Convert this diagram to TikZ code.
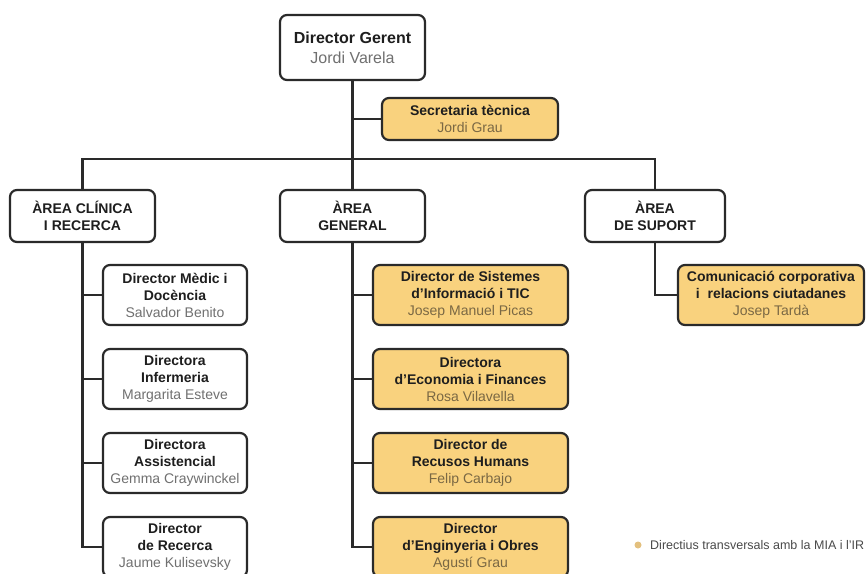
\documentclass[tikz,border=0pt]{standalone}
\usepackage{fontspec}
\setmainfont{Liberation Sans}
\definecolor{boxline}{HTML}{2A2A2A}
\definecolor{orangefill}{HTML}{F9D27E}
\definecolor{titletext}{HTML}{1E1E1E}
\definecolor{namegray}{HTML}{707070}
\definecolor{namebrown}{HTML}{7A6844}
\definecolor{legenddot}{HTML}{E3C07E}
\definecolor{legendtext}{HTML}{4A4A4A}
\begin{document}
\begin{tikzpicture}[x=1pt,y=-1pt,
  basebox/.style={draw=boxline, line width=2.2pt, rounded corners=7pt, align=center,
    inner sep=0pt, font=\fontsize{14}{17}\selectfont, text=titletext},
  whitebox/.style={basebox, fill=white},
  orangebox/.style={basebox, fill=orangefill},
  link/.style={draw=boxline, line width=2.2pt},
  ]
\useasboundingbox (0,0) rectangle (867,573);
\clip (0,0) rectangle (867,573);
\fill[white] (0,0) rectangle (867,573);

% top
\node[whitebox, minimum width=145pt, minimum height=65pt, font=\fontsize{16}{20}\selectfont] (gerent) at (352.5,47.5)
  {\textbf{Director Gerent}\\\textcolor{namegray}{Jordi Varela}};
\node[orangebox, minimum width=176pt, minimum height=42pt] (secr) at (470,119)
  {\textbf{Secretaria tècnica}\\\textcolor{namebrown}{Jordi Grau}};

% areas
\node[whitebox, minimum width=145pt, minimum height=52pt] (clin) at (82.5,216)
  {\textbf{ÀREA CLÍNICA}\\\textbf{I RECERCA}};
\node[whitebox, minimum width=145pt, minimum height=52pt] (gen) at (352.5,216)
  {\textbf{ÀREA}\\\textbf{GENERAL}};
\node[whitebox, minimum width=140pt, minimum height=52pt] (sup) at (655,216)
  {\textbf{ÀREA}\\\textbf{DE SUPORT}};

% clinical children
\node[whitebox, minimum width=144pt, minimum height=60pt] (c1) at (175,295)
  {\textbf{Director Mèdic i}\\\textbf{Docència}\\\textcolor{namegray}{Salvador Benito}};
\node[whitebox, minimum width=144pt, minimum height=60pt] (c2) at (175,379)
  {\textbf{Directora}\\\textbf{Infermeria}\\\textcolor{namegray}{Margarita Esteve}};
\node[whitebox, minimum width=144pt, minimum height=60pt] (c3) at (175,463)
  {\textbf{Directora}\\\textbf{Assistencial}\\\textcolor{namegray}{Gemma Craywinckel}};
\node[whitebox, minimum width=144pt, minimum height=60pt] (c4) at (175,547)
  {\textbf{Director}\\\textbf{de Recerca}\\\textcolor{namegray}{Jaume Kulisevsky}};

% general children
\node[orangebox, minimum width=195pt, minimum height=60pt] (g1) at (470.5,295)
  {\textbf{Director de Sistemes}\\\textbf{d'Informació i TIC}\\\textcolor{namebrown}{Josep Manuel Picas}};
\node[orangebox, minimum width=195pt, minimum height=60pt] (g2) at (470.5,379)
  {\textbf{Directora}\\\textbf{d'Economia i Finances}\\\textcolor{namebrown}{Rosa Vilavella}};
\node[orangebox, minimum width=195pt, minimum height=60pt] (g3) at (470.5,463)
  {\textbf{Director de}\\\textbf{Recusos Humans}\\\textcolor{namebrown}{Felip Carbajo}};
\node[orangebox, minimum width=195pt, minimum height=60pt] (g4) at (470.5,547)
  {\textbf{Director}\\\textbf{d'Enginyeria i Obres}\\\textcolor{namebrown}{Agustí Grau}};

% support child
\node[orangebox, minimum width=186pt, minimum height=60pt] (comm) at (771,295)
  {\textbf{Comunicació corporativa}\\\textbf{i \ relacions ciutadanes}\\\textcolor{namebrown}{Josep Tardà}};

% connectors
\draw[link] (gerent.south) -- (gen.north);
\draw[link] (secr.west) -- (secr.west -| gerent.south);
\draw[link] (clin.north) -- ++(0,-30) -| (sup.north);
\draw[link] (clin.south) |- (c4.west);
\draw[link] (c1.west) -- (c1.west -| clin.south);
\draw[link] (c2.west) -- (c2.west -| clin.south);
\draw[link] (c3.west) -- (c3.west -| clin.south);
\draw[link] (gen.south) |- (g4.west);
\draw[link] (g1.west) -- (g1.west -| gen.south);
\draw[link] (g2.west) -- (g2.west -| gen.south);
\draw[link] (g3.west) -- (g3.west -| gen.south);
\draw[link] (sup.south) |- (comm.west);

% legend
\node[circle, fill=legenddot, inner sep=0pt, minimum size=7pt] (ldot) at (638,545) {};
\node[anchor=west, inner sep=0pt, font=\fontsize{12.5}{15}\selectfont, text=legendtext] (ltext) at (650,545)
  {Directius transversals amb la MIA i l'IR};
\end{tikzpicture}
\end{document}
